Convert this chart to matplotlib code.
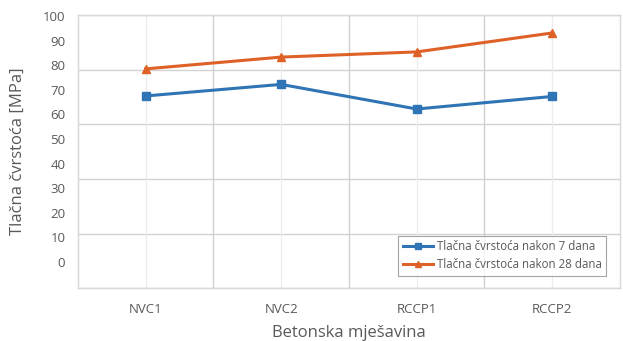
import numpy as np
import matplotlib.pyplot as plt

plt.rcParams['font.family'] = ['Open Sans', 'DejaVu Sans']

# mix designs and compressive strength (MPa)
mixes = ['NVC1', 'NVC2', 'RCCP1', 'RCCP2']
strength_7d = [67.5, 72.2, 62.2, 67.3]
strength_28d = [78.5, 83.3, 85.4, 93.1]
ytick_vals = list(range(0, 101, 10))

blue = '#2f74b5'
orange = '#de6128'
txt = '#595959'

fig = plt.figure(figsize=(6.23, 3.41), dpi=100)
ax = fig.add_axes([0.125, 0.155, 0.870, 0.801])

x = np.arange(len(mixes))
ax.plot(x, strength_7d, color=blue, lw=2.2, marker='s', ms=5.5,
        label='Tlačna čvrstoća nakon 7 dana', zorder=3)
ax.plot(x, strength_28d, color=orange, lw=2.2, marker='^', ms=5.5,
        label='Tlačna čvrstoća nakon 28 dana', zorder=3)

ax.set_xlim(-0.5, len(mixes) - 0.5)
ax.set_ylim(-10.6, 100.4)
ax.set_xticks(x)
ax.set_xticklabels(mixes)
ax.set_xticks(np.arange(0.5, len(mixes) - 0.5), minor=True)
ax.set_yticks(ytick_vals)
ax.tick_params(axis='both', which='both', length=0, colors=txt, labelsize=9.5)
ax.tick_params(axis='x', pad=11)
ax.tick_params(axis='y', pad=9)

# vertical grid: light at categories, stronger between them
ax.grid(axis='x', which='major', color='#ececec', lw=0.9)
ax.grid(axis='x', which='minor', color='#cfcfcf', lw=1.0)
ax.set_axisbelow(True)

# horizontal grid on its own evenly split scale
gy = ax.twinx()
gy.set_ylim(0, 5)
gy.set_yticks(range(6))
gy.set_yticklabels([])
gy.tick_params(length=0)
gy.grid(axis='y', color='#d2d2d2', lw=1.0)
gy.set_zorder(0)
ax.set_zorder(1)
ax.patch.set_visible(False)

for a in (ax, gy):
    for s in a.spines.values():
        s.set_color('#d9d9d9')
        s.set_linewidth(0.9)

ax.set_ylabel('Tlačna čvrstoća [MPa]', color=txt, fontsize=12, labelpad=12)
ax.set_xlabel('Betonska mješavina', color=txt, fontsize=12, labelpad=6)

leg = ax.legend(loc='lower right', bbox_to_anchor=(0.985, 0.025), fontsize=8.3,
                frameon=True, fancybox=False, edgecolor='#8c8c8c',
                handlelength=2.6, handletextpad=0.3, borderpad=0.4,
                labelspacing=0.4, markerscale=0.7)
leg.get_frame().set_linewidth(0.8)
for t in leg.get_texts():
    t.set_color(txt)

fig.savefig('out.png', dpi=100)
